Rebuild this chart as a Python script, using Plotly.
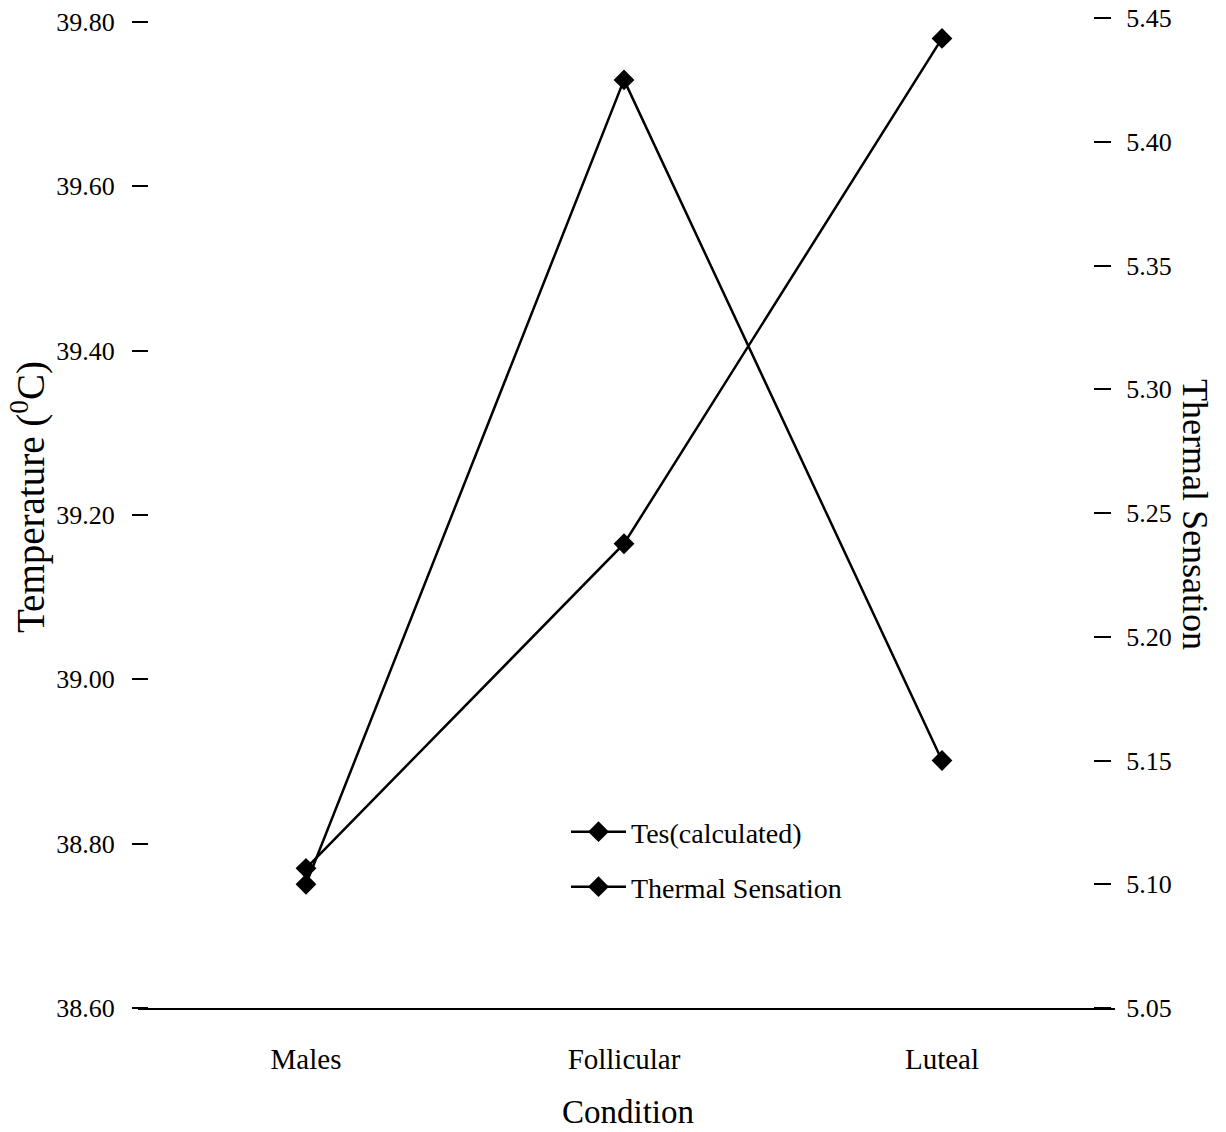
import plotly.graph_objects as go

conditions = ["Males", "Follicular", "Luteal"]
tes_calculated = [38.77, 39.165, 39.78]
thermal_sensation = [5.10, 5.425, 5.15]
left_ticks = [38.6, 38.8, 39.0, 39.2, 39.4, 39.6, 39.8]
right_ticks = [5.05, 5.10, 5.15, 5.20, 5.25, 5.30, 5.35, 5.40, 5.45]

W, H = 1226, 1132
ml, mr, mt, mb = 138, 111, 18, 124
pw = W - ml - mr
ph = H - mt - mb

def px(x):
    return (x - ml) / pw

def py(y):
    return (H - mb - y) / ph

FONT = "Liberation Serif"
x_idx = list(range(len(conditions)))

fig = go.Figure()
fig.add_trace(go.Scatter(
    x=x_idx, y=tes_calculated, name="Tes(calculated)", mode="lines+markers",
    line=dict(color="black", width=2.5),
    marker=dict(symbol="diamond", size=16, color="black"),
    yaxis="y", legend="legend",
))
fig.add_trace(go.Scatter(
    x=x_idx, y=thermal_sensation, name="Thermal Sensation", mode="lines+markers",
    line=dict(color="black", width=2.5),
    marker=dict(symbol="diamond", size=16, color="black"),
    yaxis="y2", legend="legend2",
))

unit = 318.0
x0 = 306 - ml
fig.update_layout(
    width=W, height=H,
    margin=dict(l=ml, r=mr, t=mt, b=mb, autoexpand=False),
    paper_bgcolor="white", plot_bgcolor="white",
    font=dict(family=FONT, color="black", size=26),
    xaxis=dict(
        range=[-x0 / unit, (pw - x0) / unit],
        tickvals=x_idx, ticktext=conditions,
        showline=True, linecolor="black", linewidth=2,
        showgrid=False, zeroline=False, ticks="",
        ticklabelstandoff=24, automargin=False,
        tickfont=dict(family=FONT, size=29),
    ),
    yaxis=dict(
        range=[38.6, 38.6 + 990 / 821.7],
        tickvals=left_ticks, tickformat=".2f",
        anchor="free", position=px(148), side="left",
        showline=False, showgrid=False, zeroline=False,
        ticks="outside", ticklen=16, tickwidth=2, tickcolor="black",
        ticklabelstandoff=12, automargin=False,
        tickfont=dict(family=FONT, size=26),
    ),
    yaxis2=dict(
        range=[5.05, 5.45],
        tickvals=right_ticks, tickformat=".2f",
        overlaying="y", anchor="free", position=px(1093), side="right",
        showline=False, showgrid=False, zeroline=False,
        ticks="outside", ticklen=17, tickwidth=2, tickcolor="black",
        ticklabelstandoff=10, automargin=False,
        tickfont=dict(family=FONT, size=26),
    ),
    legend=dict(
        x=px(566), y=py(832), xanchor="left", yanchor="middle",
        itemwidth=55,
        bgcolor="rgba(0,0,0,0)", font=dict(family=FONT, size=28),
    ),
    legend2=dict(
        x=px(566), y=py(887), xanchor="left", yanchor="middle",
        itemwidth=55,
        bgcolor="rgba(0,0,0,0)", font=dict(family=FONT, size=28),
    ),
    showlegend=True,
    annotations=[
        dict(text="Condition", x=px(628), y=py(1112), xref="paper", yref="paper",
             showarrow=False, xanchor="center", yanchor="middle",
             font=dict(family=FONT, size=33)),
        dict(text="Temperature (<sup>0</sup>C)", x=px(28), y=py(497), xref="paper", yref="paper",
             showarrow=False, xanchor="center", yanchor="middle", textangle=-90,
             font=dict(family=FONT, size=39)),
        dict(text="Thermal Sensation", x=px(1195), y=py(514), xref="paper", yref="paper",
             showarrow=False, xanchor="center", yanchor="middle", textangle=90,
             font=dict(family=FONT, size=36)),
    ],
)

fig.write_html("out.html")
